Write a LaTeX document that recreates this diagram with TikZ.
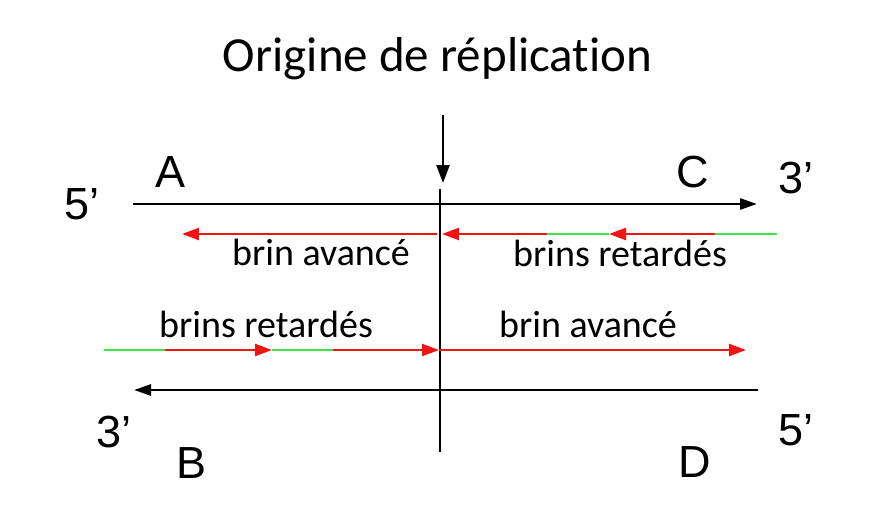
\documentclass[tikz,border=0pt]{standalone}
\usepackage{fontspec}
\setmainfont{Carlito}[Ligatures=NoCommon]
\newfontfamily\arialf{Liberation Sans}
\usetikzlibrary{arrows.meta}
\definecolor{dnared}{RGB}{240,20,20}
\definecolor{dnagreen}{RGB}{70,225,70}
\tikzset{
  strand/.style={line width=2.7pt, black},
  blacktip/.style={-{Triangle[length=17pt,width=11pt]}},
  newdna/.style={line width=2.3pt, dnared},
  primer/.style={line width=2.3pt, dnagreen},
  redtip/.style={-{Triangle[length=17pt,width=12pt]}},
  lbl/.style={inner sep=0pt, anchor=base, font=\fontsize{38}{40}\selectfont},
  endlbl/.style={inner sep=0pt, anchor=base west, font=\arialf\fontsize{45}{48}\selectfont},
}
\begin{document}
\begin{tikzpicture}[x=1pt,y=-1pt]
\useasboundingbox (0,0) rectangle (877,532);
% title
\node[inner sep=0pt, anchor=base, font=\fontsize{49}{52}\selectfont] (title) at (437.5,72) {Origine de réplication};
% origin marker
\coordinate (arrtop) at (443,115);
\coordinate (arrbot) at (443,183);
\draw[line width=2.4pt, -{Triangle[length=18pt,width=13pt]}] (arrtop) -- (arrbot);
\coordinate (vtop) at (440,189);
\coordinate (vbot) at (440,452);
\draw[line width=2.2pt] (vtop) -- (vbot);
% parental strands
\coordinate (t1) at (133,204);
\coordinate (t2) at (757,204);
\draw[strand, blacktip] (t1) -- (t2);
\coordinate (b1) at (758,390);
\coordinate (b2) at (134,390);
\draw[strand, blacktip] (b1) -- (b2);
% top new strands
\coordinate (lr1) at (437,234);
\coordinate (lr2) at (182,234);
\draw[newdna, redtip] (lr1) -- (lr2);
\coordinate (rg1) at (777,234);
\coordinate (rg2) at (715,234);
\coordinate (rr2) at (609,234);
\coordinate (rg3) at (547,234);
\coordinate (rr4) at (442,234);
\draw[primer] (rg1) -- (rg2);
\draw[newdna, redtip] (rg2) -- (rr2);
\draw[primer] (rr2) -- (rg3);
\draw[newdna, redtip] (rg3) -- (rr4);
% bottom new strands
\coordinate (bg1) at (104,350);
\coordinate (bg2) at (165,350);
\coordinate (br2) at (272,350);
\coordinate (bg3) at (333,350);
\coordinate (br4) at (439,350);
\draw[primer] (bg1) -- (bg2);
\draw[newdna, redtip] (bg2) -- (br2);
\draw[primer] (br2) -- (bg3);
\draw[newdna, redtip] (bg3) -- (br4);
\coordinate (ra1) at (439,350);
\coordinate (ra2) at (746,350);
\draw[newdna, redtip] (ra1) -- (ra2);
% strand labels
\node[lbl] (l1) at (321,265) {brin avancé};
\node[lbl] (l2) at (620,266) {brins retardés};
\node[lbl] (l3) at (266,337) {brins retardés};
\node[lbl] (l4) at (588,337) {brin avancé};
% end labels
\node[endlbl] (p5a) at (64,219) {5’};
\node[endlbl] (la) at (155,187) {A};
\node[endlbl] (lc) at (676,187) {C};
\node[endlbl] (p3a) at (778,193) {3’};
\node[endlbl] (p3b) at (96,447) {3’};
\node[endlbl] (lb) at (176,478) {B};
\node[endlbl] (ld) at (678,477) {D};
\node[endlbl] (p5b) at (778,445) {5’};
\end{tikzpicture}
\end{document}
